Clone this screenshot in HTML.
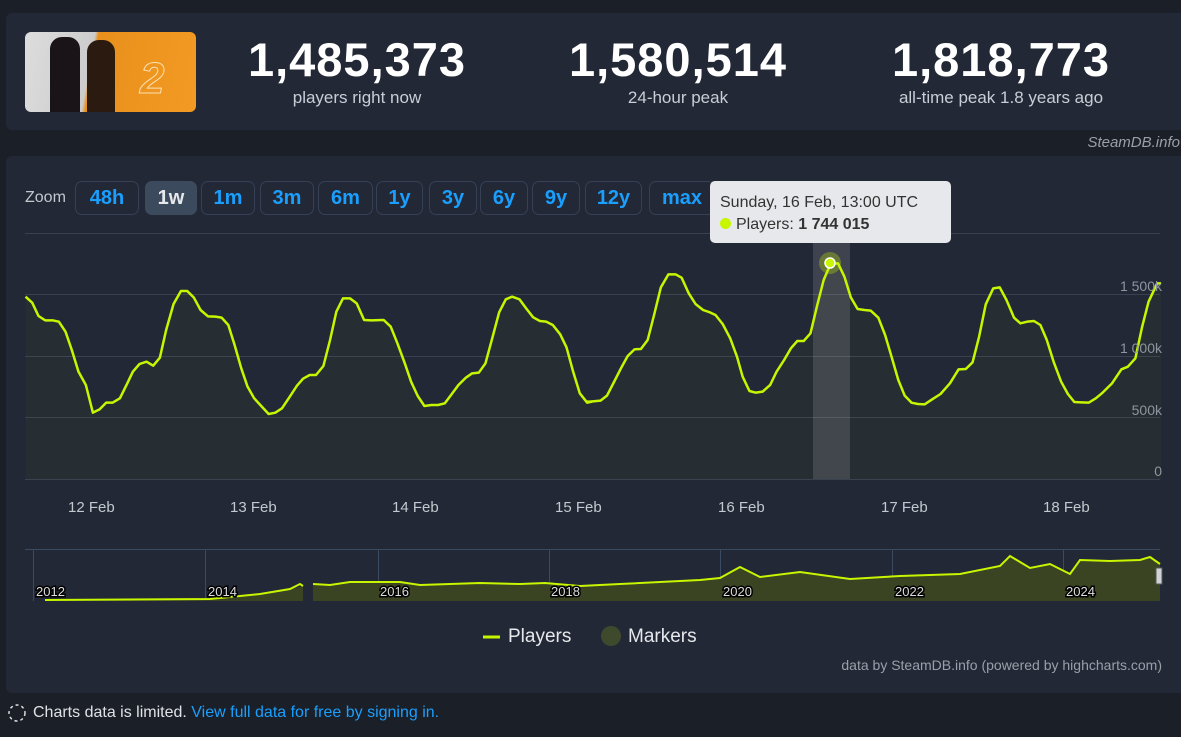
<!DOCTYPE html>
<html><head><meta charset="utf-8"><style>
body{margin:0;width:1181px;height:737px;background:#1b1f27;font-family:"Liberation Sans",Arial,sans-serif;overflow:hidden;position:relative;color:#fff}
.card{position:absolute;background:#222835;border-radius:6px}
.stat{position:absolute;text-align:center;width:320px}
.stat b{display:block;font-size:47px;font-weight:700;line-height:52px;letter-spacing:1px}
.stat span{display:block;font-size:17px;color:#c9ced6;margin-top:2px}
.btn{position:absolute;top:181px;height:34px;border:1px solid #364155;border-radius:7px;box-sizing:border-box;color:#1a9fff;font-weight:700;font-size:20px;text-align:center;line-height:32px}
.lbl{position:absolute;font-size:14px;color:#c4c8cf}
.yl{position:absolute;font-size:14px;color:#8f959e;text-align:right;width:60px;left:1102px}
</style></head><body>
<div class="card" style="left:6px;top:13px;width:1190px;height:117px"></div>
<div style="position:absolute;left:25px;top:32px;width:171px;height:80px;border-radius:6px;background:linear-gradient(100deg,#ddd 0,#ccc 38%,#e8901c 40%,#f29a22 100%);overflow:hidden">
<div style="position:absolute;left:25px;top:5px;width:30px;height:75px;background:#1a1418;border-radius:12px 12px 0 0"></div>
<div style="position:absolute;left:62px;top:8px;width:28px;height:72px;background:#2a1a10;border-radius:12px 12px 0 0"></div>
<div style="position:absolute;left:115px;top:22px;font-size:44px;font-weight:700;color:transparent;-webkit-text-stroke:1px #fbe0b0;font-style:italic">2</div>
</div>
<div class="stat" style="left:197px;top:34px"><b>1,485,373</b><span>players right now</span></div>
<div class="stat" style="left:518px;top:34px"><b>1,580,514</b><span>24-hour peak</span></div>
<div class="stat" style="left:841px;top:34px"><b>1,818,773</b><span>all-time peak 1.8 years ago</span></div>
<div style="position:absolute;right:1px;top:134px;font-size:15px;font-style:italic;color:#9aa0a8">SteamDB.info</div>
<div class="card" style="left:6px;top:156px;width:1190px;height:537px"></div>
<div class="lbl" style="left:25px;top:189px;font-size:16px">Zoom</div>
<div class="btn" style="left:75px;width:64px">48h</div>
<div class="btn" style="left:145px;width:52px;background:#3c4a5e;border-color:#3c4a5e;color:#e6e8eb">1w</div>
<div class="btn" style="left:201px;width:54px">1m</div>
<div class="btn" style="left:260px;width:54px">3m</div>
<div class="btn" style="left:318px;width:55px">6m</div>
<div class="btn" style="left:376px;width:47px">1y</div>
<div class="btn" style="left:429px;width:48px">3y</div>
<div class="btn" style="left:480px;width:48px">6y</div>
<div class="btn" style="left:532px;width:48px">9y</div>
<div class="btn" style="left:585px;width:57px">12y</div>
<div class="btn" style="left:649px;width:66px">max</div>
<svg style="position:absolute;left:0;top:0" width="1181" height="737">
<g stroke="#3a4150" stroke-width="1">
<line x1="25" y1="233.5" x2="1160" y2="233.5"/><line x1="25" y1="294.5" x2="1160" y2="294.5"/><line x1="25" y1="356.5" x2="1160" y2="356.5"/><line x1="25" y1="417.5" x2="1160" y2="417.5"/><line x1="25" y1="479.5" x2="1160" y2="479.5"/>
</g>
<rect x="813" y="233" width="37" height="246" fill="rgba(255,255,255,0.13)"/>
<g transform="translate(20,250) scale(0.37,0.33333)">
<polygon fill="rgba(200,255,0,0.025)" points="15,687 15,140 33,158 50,198 68,211 88,211 105,215 123,245 140,300 158,365 178,405 197,488 215,478 233,458 250,458 270,445 290,400 305,365 323,342 342,335 360,347 378,323 395,240 415,162 435,123 452,123 470,143 488,180 508,199 528,200 545,203 563,225 580,285 598,355 615,410 633,445 652,468 672,492 690,488 708,475 728,442 748,408 765,386 783,375 800,375 820,348 838,270 855,185 873,145 892,145 910,160 930,210 950,211 983,210 1002,230 1020,280 1040,340 1057,395 1075,438 1093,468 1112,465 1130,465 1148,460 1167,432 1185,405 1205,383 1222,370 1240,368 1258,340 1277,262 1295,187 1313,148 1330,140 1350,148 1368,175 1387,202 1405,213 1422,215 1440,225 1460,253 1477,292 1495,365 1513,430 1533,458 1540,456 1540,687"/>
<polyline vector-effect="non-scaling-stroke" fill="none" stroke="#c8f500" stroke-width="2.5" stroke-linejoin="round" points="15,140 33,158 50,198 68,211 88,211 105,215 123,245 140,300 158,365 178,405 197,488 215,478 233,458 250,458 270,445 290,400 305,365 323,342 342,335 360,347 378,323 395,240 415,162 435,123 452,123 470,143 488,180 508,199 528,200 545,203 563,225 580,285 598,355 615,410 633,445 652,468 672,492 690,488 708,475 728,442 748,408 765,386 783,375 800,375 820,348 838,270 855,185 873,145 892,145 910,160 930,210 950,211 983,210 1002,230 1020,280 1040,340 1057,395 1075,438 1093,468 1112,465 1130,465 1148,460 1167,432 1185,405 1205,383 1222,370 1240,368 1258,340 1277,262 1295,187 1313,148 1330,140 1350,148 1368,175 1387,202 1405,213 1422,215 1440,225 1460,253 1477,292 1495,365 1513,430 1533,458 1546,455"/>
</g>
<g transform="translate(590,250) scale(0.3769,0.33333)">
<polygon fill="rgba(200,255,0,0.025)" points="0,687 0,455 28,452 45,437 65,393 83,353 100,318 118,298 135,297 153,270 170,195 188,112 208,73 227,73 243,83 262,130 280,162 300,180 318,187 333,195 352,222 372,265 390,320 405,380 423,423 440,428 458,425 478,405 495,365 515,330 533,295 550,273 567,273 585,250 603,165 620,90 638,42 658,40 675,80 692,142 710,177 728,180 745,182 765,203 783,255 800,320 818,390 835,437 853,458 870,462 888,463 908,448 930,432 955,400 978,358 997,357 1015,337 1032,262 1050,163 1070,115 1087,112 1105,150 1125,203 1142,220 1160,215 1178,213 1195,225 1212,270 1230,335 1250,395 1268,432 1285,456 1303,457 1323,458 1342,445 1360,428 1385,400 1410,358 1427,350 1447,325 1465,230 1482,155 1505,100 1515,100 1515,687"/>
<polyline vector-effect="non-scaling-stroke" fill="none" stroke="#c8f500" stroke-width="2.5" stroke-linejoin="round" points="-8,455 0,455 28,452 45,437 65,393 83,353 100,318 118,298 135,297 153,270 170,195 188,112 208,73 227,73 243,83 262,130 280,162 300,180 318,187 333,195 352,222 372,265 390,320 405,380 423,423 440,428 458,425 478,405 495,365 515,330 533,295 550,273 567,273 585,250 603,165 620,90 638,42 658,40 675,80 692,142 710,177 728,180 745,182 765,203 783,255 800,320 818,390 835,437 853,458 870,462 888,463 908,448 930,432 955,400 978,358 997,357 1015,337 1032,262 1050,163 1070,115 1087,112 1105,150 1125,203 1142,220 1160,215 1178,213 1195,225 1212,270 1230,335 1250,395 1268,432 1285,456 1303,457 1323,458 1342,445 1360,428 1385,400 1410,358 1427,350 1447,325 1465,230 1482,155 1505,100 1515,100"/>
</g>
<circle cx="830" cy="263" r="11" fill="rgba(200,245,0,0.3)"/>
<circle cx="830" cy="263" r="5" fill="#c8f500" stroke="#fff" stroke-width="1.5"/>
<line x1="25" y1="549.5" x2="1160" y2="549.5" stroke="#3a4a60"/>
<g stroke="#3a4a60"><line x1="33.5" y1="550" x2="33.5" y2="601"/><line x1="205.5" y1="550" x2="205.5" y2="601"/><line x1="378.5" y1="550" x2="378.5" y2="601"/><line x1="549.5" y1="550" x2="549.5" y2="601"/><line x1="720.5" y1="550" x2="720.5" y2="601"/><line x1="892.5" y1="550" x2="892.5" y2="601"/><line x1="1063.5" y1="550" x2="1063.5" y2="601"/></g>
<polygon fill="#3a4322" points="45,601 45,600 210,599 260,594 290,589 303,586 303,601"/>
<polygon fill="#3a4322" points="313,601 313,584 330,585 350,582 380,582 400,582 420,585 450,584 480,583 520,584 545,583 580,586 620,584 700,580 720,578 740,567 760,577 800,572 850,579 900,576 960,574 1000,566 1010,556 1020,562 1030,568 1050,564 1070,574 1080,560 1110,561 1140,560 1150,557 1160,564 1160,601"/>
<polyline fill="none" stroke="#c8f500" stroke-width="2" points="45,600 210,599 260,594 290,589 300,584 303,586"/>
<polyline fill="none" stroke="#c8f500" stroke-width="2" points="313,584 330,585 350,582 380,582 400,582 420,585 450,584 480,583 520,584 545,583 580,586 620,584 700,580 720,578 740,567 760,577 800,572 850,579 900,576 960,574 1000,566 1010,556 1020,562 1030,568 1050,564 1070,574 1080,560 1110,561 1140,560 1150,557 1160,564"/>
<rect x="1156" y="568" width="6" height="16" fill="#cfd3d8" stroke="#555"/>
<g font-size="13" fill="#ddd" stroke="#000" stroke-width="3" paint-order="stroke" font-family="Liberation Sans">
<text x="36" y="596">2012</text><text x="208" y="596">2014</text><text x="380" y="596">2016</text><text x="551" y="596">2018</text><text x="723" y="596">2020</text><text x="895" y="596">2022</text><text x="1066" y="596">2024</text>
</g>
<line x1="483" y1="637" x2="500" y2="637" stroke="#c8f500" stroke-width="3"/>
<circle cx="611" cy="636" r="10" fill="#3f4a2c"/>
<circle cx="17" cy="713" r="8" fill="none" stroke="#ddd" stroke-width="1.5" stroke-dasharray="3,3"/>
</svg>
<div class="yl" style="top:278px">1 500k</div>
<div class="yl" style="top:340px">1 000k</div>
<div class="yl" style="top:402px">500k</div>
<div class="yl" style="top:463px">0</div>
<div class="lbl" style="left:68px;top:499px;font-size:15px">12 Feb</div>
<div class="lbl" style="left:230px;top:499px;font-size:15px">13 Feb</div>
<div class="lbl" style="left:392px;top:499px;font-size:15px">14 Feb</div>
<div class="lbl" style="left:555px;top:499px;font-size:15px">15 Feb</div>
<div class="lbl" style="left:718px;top:499px;font-size:15px">16 Feb</div>
<div class="lbl" style="left:881px;top:499px;font-size:15px">17 Feb</div>
<div class="lbl" style="left:1043px;top:499px;font-size:15px">18 Feb</div>
<div style="position:absolute;left:710px;top:181px;width:241px;height:62px;background:#e6e8eb;border-radius:5px;color:#333;font-size:16px;box-sizing:border-box;padding:11px 0 0 10px;line-height:22px">Sunday, 16 Feb, 13:00 UTC<br><span style="display:inline-block;width:11px;height:11px;border-radius:50%;background:#c8f500;margin-right:5px"></span>Players: <b>1 744 015</b></div>
<div style="position:absolute;left:508px;top:626px;font-size:19px;color:#e6e8eb">Players</div>
<div style="position:absolute;left:628px;top:626px;font-size:19px;color:#e6e8eb">Markers</div>
<div style="position:absolute;right:19px;top:657px;font-size:14px;color:#9aa0a8">data by SteamDB.info (powered by highcharts.com)</div>
<div style="position:absolute;left:33px;top:704px;font-size:16px;color:#dfe2e6">Charts data is limited. <span style="color:#1a9fff">View full data for free by signing in.</span></div>
</body></html>
